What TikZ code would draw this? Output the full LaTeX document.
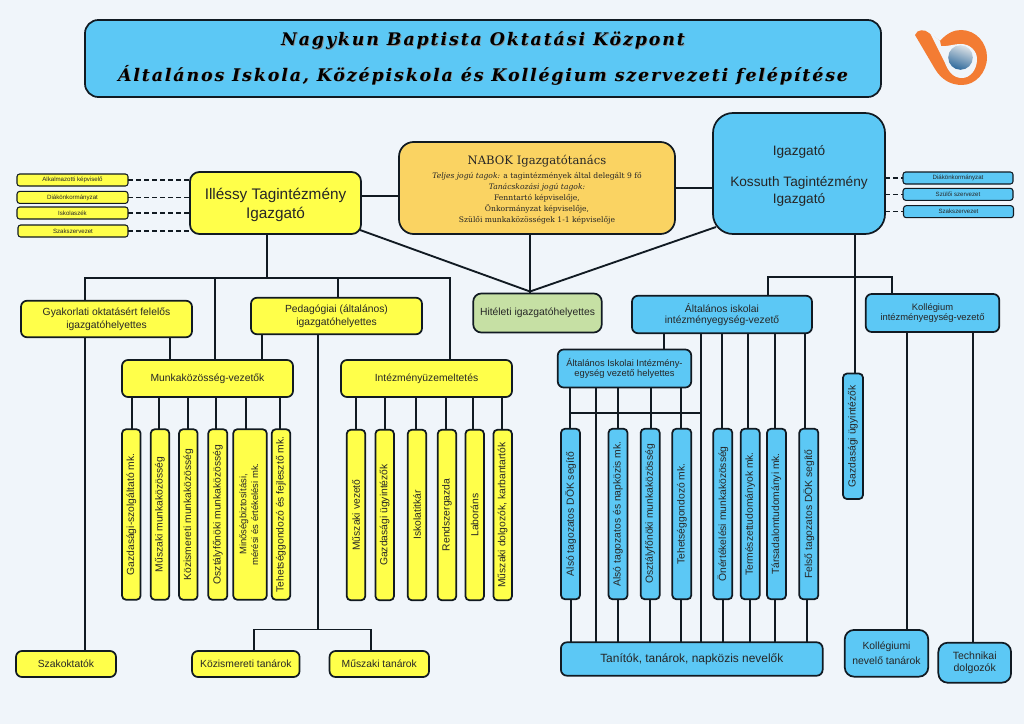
\documentclass[tikz,border=0pt]{standalone}
\usepackage{fontspec}
\usepackage{graphicx}
\setmainfont{Liberation Sans}
\newfontfamily\titlefont[LetterSpace=11]{DejaVu Serif}
\newfontfamily\nabokfont{DejaVu Serif}
\usetikzlibrary{shapes.geometric}
\definecolor{pagebg}{HTML}{F0F5FA}
\definecolor{kekbox}{HTML}{5CC8F5}
\definecolor{sargabox}{HTML}{FFFF4A}
\definecolor{narancsbox}{HTML}{FAD362}
\definecolor{zoldbox}{HTML}{C6E0A4}
\definecolor{logonarancs}{HTML}{F37C33}
\definecolor{logovilagos}{HTML}{DDE2E6}
\definecolor{logokozep}{HTML}{8FA6BA}
\definecolor{logosotet}{HTML}{2F6A9C}
\definecolor{vonal}{HTML}{111A22}
\tikzset{
  sz/.style 2 args={minimum width=#1*0.75pt,minimum height=#2*0.75pt},
  boxy/.style={draw=vonal,line width=1.3pt,rounded corners=4.5pt,align=center,inner sep=0pt,outer sep=0pt,font=\fontsize{7.75pt}{9.6pt}\selectfont,text=black!85},
  yellowbox/.style={boxy,fill=sargabox},
  bluebox/.style={boxy,fill=kekbox},
  vert/.style={rounded corners=3pt},
  tinyy/.style={yellowbox,line width=0.8pt,rounded corners=2pt,font=\fontsize{4.6pt}{5pt}\selectfont},
  tinyb/.style={bluebox,line width=0.8pt,rounded corners=2pt,font=\fontsize{4.6pt}{5pt}\selectfont},
  conn/.style={draw=vonal,line width=1.4pt},
  dashconn/.style={draw=vonal,line width=0.9pt,dash pattern=on 4pt off 2pt},
  titletext/.style={inner sep=0pt,font=\titlefont\bfseries\itshape\fontsize{13pt}{15pt}\selectfont},
}
\newcommand{\rottext}[1]{\rotatebox{90}{#1}}
\begin{document}
\begin{tikzpicture}[x=0.75pt,y=-0.75pt]
\useasboundingbox (0,0) rectangle (1024,724);
\fill [pagebg] (0,0) rectangle (1024,724);

% title
\node [bluebox,sz={796}{77},rounded corners=10pt] (title) at (483,58.5) {};
\node [titletext,text=black!45] (titleas) at (483.8,41) {Nagykun Baptista Oktatási Központ};
\node [titletext,text=black] (titlea) at (483,40.2) {Nagykun Baptista Oktatási Központ};
\node [titletext,text=black!45] (titlebs) at (483.8,75.8) {Általános Iskola, Középiskola és Kollégium szervezeti felépítése};
\node [titletext,text=black] (titleb) at (483,75) {Általános Iskola, Középiskola és Kollégium szervezeti felépítése};

% logo
\fill [logonarancs] (915,35) .. controls (917,29) and (925,29) .. (929,33) -- (940,41) .. controls (947,33) and (954,30) .. (961,30) .. controls (976,30) and (987,43) .. (987,57) .. controls (987,73) and (975,85) .. (962,85) .. controls (950,85) and (941,79) .. (935,69) -- cycle;
\fill [pagebg] (930,33) -- (940,41) -- (941,46) .. controls (947,47) and (953,44) .. (961,44) .. controls (970,44) and (977,51) .. (977,59) .. controls (977,70) and (970,78) .. (962,78) .. controls (953,78) and (948,71) .. (945,63) -- cycle;
\shade [top color=logovilagos,middle color=logokozep,bottom color=logosotet,shading angle=-20] (960.5,57.5) circle (12.3);

% top nodes
\node [yellowbox,sz={171}{62},rounded corners=7pt,font=\fontsize{11.5pt}{14.25pt}\selectfont] (illessy) at (275.5,203) {\rule{0pt}{11pt}Illéssy Tagintézmény\\Igazgató};
\node [boxy,fill=narancsbox,sz={276}{92},rounded corners=11pt,font=\nabokfont\fontsize{5.7pt}{8.25pt}\selectfont] (nabok) at (537,188) {\rule{0pt}{10pt}{\fontsize{8.7pt}{11pt}\selectfont NABOK Igazgatótanács}\\[2pt]\textit{Teljes jogú tagok:} a tagintézmények által delegált 9 fő\\\textit{Tanácskozási jogú tagok:}\\Fenntartó képviselője,\\Önkormányzat képviselője,\\Szülői munkaközösségek 1-1 képviselője};
\node [bluebox,sz={172}{121},rounded corners=15pt,font=\fontsize{10.25pt}{12.75pt}\selectfont] (igazgato) at (799,173.5) {\rule{0pt}{11.5pt}Igazgató\\[10.5pt]Kossuth Tagintézmény\\Igazgató};

% small left and right nodes
\node [tinyy,sz={111}{12}] (alk) at (72.5,180) {Alkalmazotti képviselő};
\node [tinyy,sz={111}{12}] (diak) at (72.5,197.4) {Diákönkormányzat};
\node [tinyy,sz={111}{12}] (isk) at (72.5,213) {Iskolaszék};
\node [tinyy,sz={110}{12}] (szakl) at (73,231) {Szakszervezet};
\node [tinyb,sz={110}{12}] (diakr) at (958,178) {Diákönkormányzat};
\node [tinyb,sz={110}{12}] (szulo) at (958,194.3) {Szülői szervezet};
\node [tinyb,sz={110}{12}] (szakr) at (958.5,211.7) {Szakszervezet};
\draw [dashconn] (alk.east) -- (alk.east -| illessy.west);
\draw [dashconn] (diak.east) -- (diak.east -| illessy.west);
\draw [dashconn] (isk.east) -- (isk.east -| illessy.west);
\draw [dashconn] (szakl.east) -- (szakl.east -| illessy.west);
\draw [dashconn] (igazgato.east |- diakr.west) -- (diakr.west);
\draw [dashconn] (igazgato.east |- szulo.west) -- (szulo.west);
\draw [dashconn] (igazgato.east |- szakr.west) -- (szakr.west);

% second row
\node [yellowbox,sz={171}{36.5}] (gyak) at (106.5,319) {Gyakorlati oktatásért felelős\\igazgatóhelyettes};
\node [yellowbox,sz={171}{36.5}] (ped) at (336.5,316) {Pedagógiai (általános)\\igazgatóhelyettes};
\node [boxy,fill=zoldbox,sz={128.5}{39},rounded corners=6pt] (hit) at (537.5,313) {Hitéleti igazgatóhelyettes};
\node [bluebox,sz={180}{37.5},font=\fontsize{7.75pt}{8.6pt}\selectfont] (alt) at (722,314.5) {Általános iskolai\\intézményegység-vezető};
\node [bluebox,sz={133.5}{38},font=\fontsize{7.05pt}{7.9pt}\selectfont] (koll) at (932.5,313) {Kollégium\\intézményegység-vezető};
\node [yellowbox,sz={171}{37}] (munk) at (207.5,378.5) {Munkaközösség-vezetők};
\node [yellowbox,sz={171}{37}] (intez) at (426.5,378.5) {Intézményüzemeltetés};
\node [bluebox,sz={133.5}{38},font=\fontsize{7pt}{7.6pt}\selectfont] (hely) at (624.5,368.5) {Általános Iskolai Intézmény-\\egység vezető helyettes};

% vertical yellow nodes
\node [yellowbox,vert,sz={18.5}{170.5}] (v1) at (131.3,514.5) {\rottext{Gazdasági-szolgáltató mk.}};
\node [yellowbox,vert,sz={18.5}{170.5}] (v2) at (160,514.5) {\rottext{Műszaki munkaközösség}};
\node [yellowbox,vert,sz={18.5}{170.5}] (v3) at (188.3,514.5) {\rottext{Közismereti munkaközösség}};
\node [yellowbox,vert,sz={19}{170.5}] (v4) at (217.8,514.5) {\rottext{Osztályfőnöki munkaközösség}};
\node [yellowbox,vert,sz={33.5}{170.5},font=\fontsize{7.1pt}{8.8pt}\selectfont] (v5) at (250,514.5) {\rottext{\begin{tabular}{@{}c@{}}Minőségbiztosítási,\\mérési és értékelési mk.\end{tabular}}};
\node [yellowbox,vert,sz={18.5}{170.5}] (v6) at (281,514.5) {\rottext{Tehetséggondozó és fejlesztő mk.}};
\node [yellowbox,vert,sz={18.5}{170.5}] (w1) at (356,515) {\rottext{Műszaki vezető}};
\node [yellowbox,vert,sz={18.5}{170.5}] (w2) at (384.7,515) {\rottext{Gazdasági ügyintézők}};
\node [yellowbox,vert,sz={18.5}{170.5}] (w3) at (417,515) {\rottext{Iskolatitkár}};
\node [yellowbox,vert,sz={18.5}{170.5}] (w4) at (447,515) {\rottext{Rendszergazda}};
\node [yellowbox,vert,sz={18.5}{170.5}] (w5) at (474.7,515) {\rottext{Laboráns}};
\node [yellowbox,vert,sz={18.5}{170.5}] (w6) at (502.7,515) {\rottext{Műszaki dolgozók, karbantartók}};

% vertical blue nodes
\node [bluebox,vert,sz={19}{170.5}] (k1) at (570.5,514) {\rottext{Alsó tagozatos DÖK segítő}};
\node [bluebox,vert,sz={19}{170.5}] (k2) at (618,514) {\rottext{Alsó tagozatos és napközis mk.}};
\node [bluebox,vert,sz={19}{170.5}] (k3) at (650.2,514) {\rottext{Osztályfőnöki munkaközösség}};
\node [bluebox,vert,sz={19}{170.5}] (k4) at (681.8,514) {\rottext{Tehetséggondozó mk.}};
\node [bluebox,vert,sz={19}{170.5}] (k5) at (722.8,514) {\rottext{Önértékelési munkaközösség}};
\node [bluebox,vert,sz={19}{170.5}] (k6) at (750.2,514) {\rottext{Természettudományok mk.}};
\node [bluebox,vert,sz={19}{170.5}] (k7) at (776.5,514) {\rottext{Társadalomtudományi mk.}};
\node [bluebox,vert,sz={19}{170.5}] (k8) at (808.8,514) {\rottext{Felső tagozatos DÖK segítő}};
\node [bluebox,vert,sz={20}{125.5}] (gu) at (853,436.3) {\rottext{Gazdasági ügyintézők}};

% bottom nodes
\node [yellowbox,sz={100}{26}] (szako) at (66,664) {Szakoktatók};
\node [yellowbox,sz={107.5}{26}] (kozis) at (245.8,664) {Közismereti tanárok};
\node [yellowbox,sz={99.5}{26}] (muszt) at (379.3,664) {Műszaki tanárok};
\node [bluebox,sz={261.7}{33.4},font=\fontsize{8.95pt}{11pt}\selectfont] (tan) at (691.8,659) {Tanítók, tanárok, napközis nevelők};
\node [bluebox,sz={83.5}{46.7},rounded corners=7pt,font=\fontsize{7.8pt}{11.7pt}\selectfont] (kneve) at (886.5,653.3) {Kollégiumi\\nevelő tanárok};
\node [bluebox,sz={72.7}{40},rounded corners=7pt,font=\fontsize{7.9pt}{9pt}\selectfont] (tech) at (974.7,662.7) {Technikai\\dolgozók};

% free ends
\coordinate (busl) at (267,278);
\coordinate (busr) at (855,277);
\coordinate (meet) at (530,291.5);
\coordinate (kozl) at (318,629.5);
\coordinate (helybus) at (701,412.7);

% connectors
\draw [conn] (illessy.east |- nabok.west) ++(0,8) coordinate (ina) -- (ina -| nabok.west);
\draw [conn] (nabok.east) -- (nabok.east -| igazgato.west);
\draw [conn] (illessy.south east) ++(-1,-4) coordinate (ime) -- (meet);
\draw [conn] (igazgato.south west) ++(3,-7) coordinate (ige) -- (meet);
\draw [conn] (nabok.south -| meet) -- (hit.north -| meet);
\draw [conn] (illessy.south -| busl) -- (busl);
\draw [conn] (gyak.north -| 85,0) |- (busl);
\draw [conn] (busl) -| (intez.north -| 450,0);
\draw [conn] (busl -| 215,0) -- (munk.north -| 215,0);
\draw [conn] (busl -| 337.7,0) -- (ped.north -| 337.7,0);
\draw [conn] (gyak.south -| 170,0) -- (munk.north -| 170,0);
\draw [conn] (ped.south -| 262,0) -- (munk.north -| 262,0);
\draw [conn] (gyak.south -| 85,0) -- (szako.north -| 85,0);
\draw [conn] (ped.south -| kozl) -- (kozl);
\draw [conn] (kozis.north -| 254,0) |- (kozl) -| (muszt.north -| 371,0);

\draw [conn] (munk.south -| 131.7,0) -- (v1.north -| 131.7,0);
\draw [conn] (munk.south -| 158.7,0) -- (v2.north -| 158.7,0);
\draw [conn] (munk.south -| v3.north) -- (v3.north);
\draw [conn] (munk.south -| 215.7,0) -- (v4.north -| 215.7,0);
\draw [conn] (munk.south -| 246,0) -- (v5.north -| 246,0);
\draw [conn] (munk.south -| 279.7,0) -- (v6.north -| 279.7,0);
\draw [conn] (intez.south -| w1.north) -- (w1.north);
\draw [conn] (intez.south -| w2.north) -- (w2.north);
\draw [conn] (intez.south -| 416,0) -- (w3.north -| 416,0);
\draw [conn] (intez.south -| 446,0) -- (w4.north -| 446,0);
\draw [conn] (intez.south -| 473.3,0) -- (w5.north -| 473.3,0);
\draw [conn] (intez.south -| 502.3,0) -- (w6.north -| 502.3,0);

\draw [conn] (igazgato.south -| busr) -- (gu.north -| busr);
\draw [conn] (alt.north -| 768,0) |- (busr) -| (koll.north -| 892.3,0);
\draw [conn] (alt.south -| 663.7,0) -- (hely.north -| 663.7,0);
\draw [conn] (alt.south -| 701,0) -- (tan.north -| 701,0);
\draw [conn] (alt.south -| 722,0) -- (k5.north -| 722,0);
\draw [conn] (alt.south -| 748.3,0) -- (k6.north -| 748.3,0);
\draw [conn] (alt.south -| 774.7,0) -- (k7.north -| 774.7,0);
\draw [conn] (alt.south -| 805,0) -- (k8.north -| 805,0);
\draw [conn] (hely.south -| 569.7,0) -- (k1.north -| 569.7,0);
\draw [conn] (hely.south -| 596,0) -- (tan.north -| 596,0);
\draw [conn] (hely.south -| k2.north) -- (k2.north);
\draw [conn] (hely.south -| 650.7,0) -- (k3.north -| 650.7,0);
\draw [conn] (hely.south -| 681.3,0) -- (k4.north -| 681.3,0);
\draw [conn] (helybus -| 569.7,0) -- (helybus);
\draw [conn] (k1.south -| 570.7,0) -- (tan.north -| 570.7,0);
\draw [conn] (k2.south) -- (tan.north -| k2.south);
\draw [conn] (k3.south) -- (tan.north -| k3.south);
\draw [conn] (k4.south -| 681,0) -- (tan.north -| 681,0);
\draw [conn] (k5.south) -- (tan.north -| k5.south);
\draw [conn] (k6.south) -- (tan.north -| k6.south);
\draw [conn] (k7.south -| 774.7,0) -- (tan.north -| 774.7,0);
\draw [conn] (k8.south -| 806.7,0) -- (tan.north -| 806.7,0);
\draw [conn] (koll.south -| 907,0) -- (kneve.north -| 907,0);
\draw [conn] (koll.south -| 973,0) -- (tech.north -| 973,0);
\end{tikzpicture}
\end{document}
